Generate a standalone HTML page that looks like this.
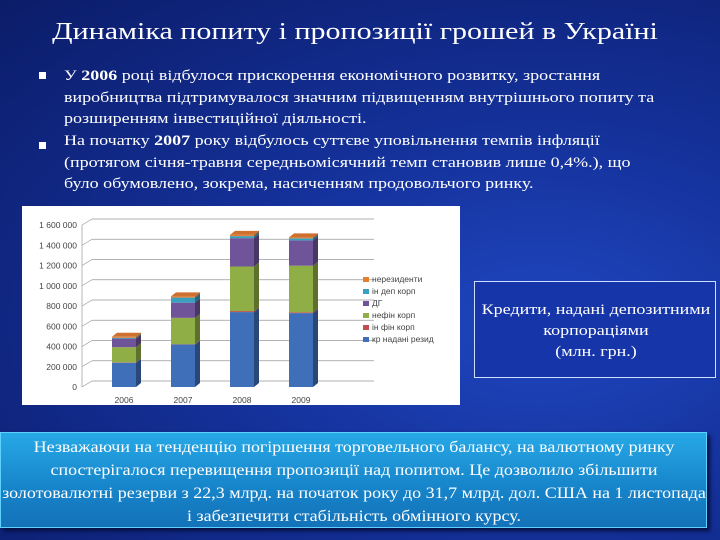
<!DOCTYPE html>
<html><head><meta charset="utf-8"><style>
body{margin:0;}
#slide{position:relative;width:720px;height:540px;overflow:hidden;background:radial-gradient(ellipse at 75% 60%,#1f46c0 0%,#143098 45%,#0b1c68 100%);font-family:"Liberation Serif",serif;color:#fff;}
.t{position:absolute;white-space:nowrap;}
#title{left:355px;top:19px;font-size:24px;transform:translateX(-50%) scaleX(1.25);}
.bl{font-size:15px;line-height:21.5px;left:64px;transform-origin:0 0;transform:scaleX(1.2);}
.bu{position:absolute;left:39px;width:7px;height:7px;background:#fff;}
#chart{position:absolute;left:22px;top:206px;width:438px;height:199px;background:#fff;}
#box{position:absolute;left:474px;top:281px;width:242px;height:97px;border:1px solid #cfe0ff;box-sizing:border-box;font-size:15px;line-height:21px;background:#1535a8;}
#box div{position:absolute;left:121px;top:18px;text-align:center;white-space:nowrap;transform:translateX(-50%) scaleX(1.2);}
#bottom{position:absolute;left:0;top:432px;width:707px;height:96px;background:linear-gradient(#27a9e6,#1683c9 60%,#1472b8);border:1px solid #5fd0ff;box-sizing:border-box;font-size:15.5px;line-height:23px;box-shadow:3px 3px 4px #061040;}
#bottom div{position:absolute;left:353px;top:3px;text-align:center;white-space:nowrap;transform:translateX(-50%) scaleX(1.16);}
</style></head><body>
<div id="slide">
<div id="title" class="t">Динаміка попиту і пропозиції грошей в Україні</div>
<div class="bu" style="top:72px"></div>
<div class="t bl" style="top:66px">У <b>2006</b> році відбулося прискорення економічного розвитку, зростання<br>виробництва підтримувалося значним підвищенням внутрішнього попиту та<br>розширенням інвестиційної діяльності.</div>
<div class="bu" style="top:142px"></div>
<div class="t bl" style="top:131px">На початку <b>2007</b> року відбулось суттєве уповільнення темпів інфляції<br>(протягом січня-травня середньомісячний темп становив лише 0,4%.), що<br>було обумовлено, зокрема, насиченням продовольчого ринку.</div>
<div id="chart"><svg id="svg" width="438" height="199" font-family="Liberation Sans, sans-serif"></svg></div>
<div id="box"><div>Кредити, надані депозитними<br>корпораціями<br>(млн. грн.)</div></div>
<div id="bottom"><div>Незважаючи на тенденцію погіршення торговельного балансу, на валютному ринку<br>спостерігалося перевищення пропозиції над попитом. Це дозволило збільшити<br>золотовалютні резерви з 22,3 млрд. на початок року до 31,7 млрд. дол. США на 1 листопада<br>і забезпечити стабільність обмінного курсу.</div></div>
</div>
<script>
const years=["2006","2007","2008","2009"];
const seriesNames=["кр надані резид","ін фін корп","нефін корп","ДГ","ін деп корп","нерезиденти"];
const seriesColors=["#3f6fb8","#c0504d","#8fae45","#6f5499","#3aa0c0","#e08030"];
const sBlue=[240000,420000,740000,730000];
const sRed=[3000,3000,10000,8000];
const sGreen=[150000,260000,440000,460000];
const sPurple=[85000,150000,280000,250000];
const sTeal=[8000,50000,20000,20000];
const sOrange=[10000,12000,12000,10000];
const yTicks=[0,200000,400000,600000,800000,1000000,1200000,1400000,1600000];
const yTickLabels=["0","200 000","400 000","600 000","800 000","1 000 000","1 200 000","1 400 000","1 600 000"];
const series=[sBlue,sRed,sGreen,sPurple,sTeal,sOrange];
const svg=document.getElementById('svg');const NS='http://www.w3.org/2000/svg';
function y(v){return 181-v*(162/1600000);}
function x(i){return 90+i*59;}
function mk(t,a){const e=document.createElementNS(NS,t);for(const k in a)e.setAttribute(k,a[k]);svg.appendChild(e);return e;}
yTicks.forEach((t,i)=>{
 const g=mk('line',{x1:60,y1:y(t),x2:70,y2:y(t)-6,stroke:'#999','stroke-width':0.7});
 
 const l=mk('line',{x1:70,y1:y(t)-6,x2:352,y2:y(t)-6,stroke:'#999','stroke-width':0.7});
 
 const tx=mk('text',{x:55,y:y(t)+3,'text-anchor':'end','font-size':8.5,fill:'#444'});tx.textContent=yTickLabels[i];
 
});
mk('line',{x1:60,y1:y(0),x2:60,y2:y(1600000),stroke:'#999','stroke-width':0.7});
function shade(c,f){const n=parseInt(c.slice(1),16);let r=(n>>16)*f,g=(n>>8&255)*f,b=(n&255)*f;return 'rgb('+[r,g,b].map(v=>Math.round(v)).join(',')+')';}
years.forEach((yr,i)=>{
 let base=0;const x0=x(i),w=24,d=5;
 series.forEach((s,k)=>{
  const v=s[i];const y0=y(base),y1=y(base+v);const c=seriesColors[k];
  const r=mk('rect',{x:x0,y:y1,width:w,height:Math.max(0,y0-y1),fill:c});
  
  const p=mk('polygon',{points:`${x0+w},${y1} ${x0+w+d},${y1-4} ${x0+w+d},${y0-4} ${x0+w},${y0}`,fill:shade(c,0.65)});
  
  base+=v;
 });
 const yt=y(base);
 const top=mk('polygon',{points:`${x0},${yt} ${x0+w},${yt} ${x0+w+5},${yt-4} ${x0+5},${yt-4}`,fill:'#d07030'});
 
 const t=mk('text',{x:x0+12,y:197,'text-anchor':'middle','font-size':8.5,fill:'#444'});t.textContent=yr;
 
});
seriesNames.slice().reverse().forEach((n,j)=>{
 const k=seriesNames.length-1-j;const yy=76+j*12;
 const r=mk('rect',{x:341,y:yy-5,width:6,height:5,fill:seriesColors[k]});
 
 const t=mk('text',{x:350,y:yy,'font-size':8.5,fill:'#444'});t.textContent=n;
 
});
</script>
</body></html>
